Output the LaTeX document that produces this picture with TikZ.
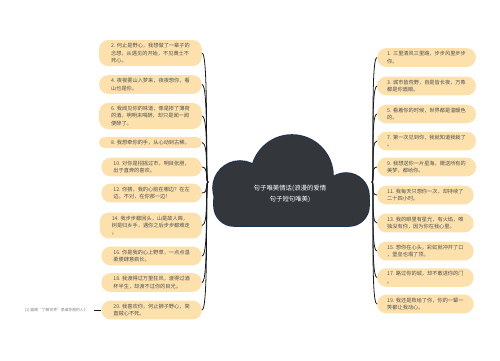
\documentclass[tikz,border=0pt]{standalone}
\usepackage{fontspec}
\newfontfamily\cjk{Noto Sans CJK SC}
\definecolor{nodefill}{HTML}{FCE1AC}
\definecolor{txt}{HTML}{505050}
\definecolor{linec}{HTML}{1A1A1A}
\definecolor{cloudfill}{HTML}{33363B}
\definecolor{cloudline}{HTML}{1A3254}
\tikzset{
  leaf/.style={fill=nodefill, rounded corners=9pt, inner xsep=12pt, inner ysep=3.2pt,
    align=left, text=txt, font=\cjk\fontsize{5.2}{7.4}\selectfont},
  leafone/.style={leaf, rounded corners=5.5pt},
  lleaf/.style={leaf, anchor=east},
  rleaf/.style={leaf, anchor=west, inner xsep=10pt},
  conn/.style={draw=linec, line width=0.8pt},
  roottext/.style={text=white, align=center, font=\cjk\fontsize{6.4}{11}\selectfont},
  wm/.style={text=gray, font=\cjk\fontsize{3.8}{4.5}\selectfont, anchor=east}
}
\begin{document}
\begin{tikzpicture}[x=1pt,y=-1pt]
\useasboundingbox (0,0) rectangle (500,360);
% cloud
\begin{scope}
  \draw[cloudline, line width=1.6pt] (214,180) [rounded corners=20pt] rectangle (369,226);
  \draw[cloudline, line width=1.6pt] (240,188) circle[radius=27];
  \draw[cloudline, line width=1.6pt] (292,176) circle[radius=41];
  \draw[cloudline, line width=1.6pt] (346,196) circle[radius=23];
  \fill[cloudfill] (214,180) [rounded corners=20pt] rectangle (369,226);
  \fill[cloudfill] (240,188) circle[radius=27];
  \fill[cloudfill] (292,176) circle[radius=41];
  \fill[cloudfill] (346,196) circle[radius=23];
\end{scope}
\node[roottext] (root) at (290,194) {句子唯美情话(浪漫的爱情\\句子短句唯美)};
\coordinate (rL) at (208,182);
\coordinate (rR) at (372,182);

% left nodes
\node[lleaf] (n2) at (202,53) {2. 何止是野心，我想做了一辈子的\\念想，从遇见的开始，不见黄土不\\死心。};
\node[lleaf] (n4) at (202,84.5) {4. 夜夜雾山入梦来，夜夜想你，看\\山也是你。};
\node[lleaf] (n6) at (202,116) {6. 我闻见你的味道，像是掺了薄荷\\的酒，明明未喝醉，却只是闻一闻\\便醉了。};
\node[lleaf, leafone] (n8) at (202,142.5) {8. 我想牵你的手，从心动到古稀。};
\node[lleaf] (n10) at (202,167) {10. 对你是招摇过市，明目张胆，\\出于直奔的喜欢。};
\node[lleaf] (n12) at (202,193) {12. 你猜，我的心脏在哪边？在左\\边。不对，在你那一边！};
\node[lleaf] (n14) at (202,225.5) {14. 我步步都回头，山是故人眸，\\树是归乡手，遇你之后步步都难走\\。};
\node[lleaf] (n16) at (202,256) {16. 你是我的心上野草，一点点温\\柔便肆意疯长。};
\node[lleaf] (n18) at (202,282.5) {18. 我渡得过万里狂风，渡得过酒\\杯半生，却渡不过你的目光。};
\node[lleaf] (n20) at (202,310) {20. 我喜欢你，何止狮子野心，简\\直贼心不死。};

% right nodes
\node[rleaf] (n1) at (377,57.5) {1. 三里清风三里路，步步风里步步\\你。};
\node[rleaf] (n3) at (377,86) {3. 城市皆荒野，自是皆长夜，万象\\都是你眉眼。};
\node[rleaf] (n5) at (377,114) {5. 看着你的时候，世界都是温暖色\\的。};
\node[rleaf] (n7) at (377,141) {7. 第一次见到你，我就知道我栽了\\。};
\node[rleaf] (n9) at (377,167) {9. 我想送你一片星海，赠送所有的\\美梦，都给你。};
\node[rleaf] (n11) at (377,195) {11. 我每天只想你一次，却持续了\\二十四小时。};
\node[rleaf] (n13) at (377,223) {13. 我的眼里有星光，有火焰，唯\\独没有你，因为你在我心里。};
\node[rleaf] (n15) at (377,251) {15. 想你在心头，彩虹就冲开了口\\，堡垒也塌了顶。};
\node[rleaf] (n17) at (377,277.5) {17. 路过你的城，却不敢进你的门\\。};
\node[rleaf] (n19) at (377,304) {19. 我还是败给了你，你的一颦一\\笑都让我动心。};

% connectors
\foreach \n in {n2,n4,n6,n8,n10,n12,n14,n16,n18,n20}
  \draw[conn] (rL) .. controls +(-3,0) and +(7,0) .. (\n.east);
\foreach \n in {n1,n3,n5,n7,n9,n11,n13,n15,n17,n19}
  \draw[conn] (rR) .. controls +(3,0) and +(-7,0) .. (\n.west);

% watermark
\node[wm] (wm) at (91,310) {(1) 猫眼“了解世界”思维导图的人》};
\draw[conn] (wm.east) ++(3,0) -- (n20.west);
\end{tikzpicture}
\end{document}
